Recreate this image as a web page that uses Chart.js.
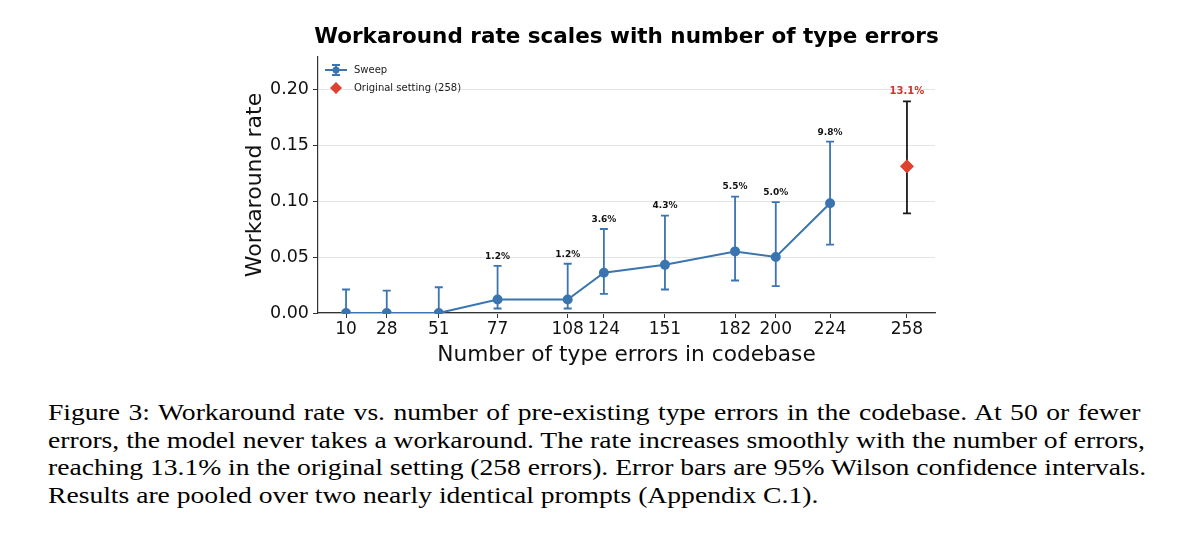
<!DOCTYPE html>
<html>
<head>
<meta charset="utf-8">
<script src="https://cdn.jsdelivr.net/npm/chart.js@4.4.1/dist/chart.umd.min.js"></script>
<style>
    body { margin: 0; background: #fff; width: 1200px; height: 538px; overflow: hidden; }
    #wrap { position: absolute; left: 0; top: 0; width: 1200px; height: 380px; }
    #caption {
        position: absolute; left: 48px; top: 399px; width: 950px;
        transform: scaleX(1.15); transform-origin: 0 0;
        font-family: "Liberation Serif", "Times New Roman", serif;
        font-size: 24px; line-height: 27.5px; color: #000; white-space: nowrap;
    }
    #caption .j { text-align: justify; text-align-last: justify; }
</style>
</head>
<body>
<div id="wrap"><canvas id="myChart"></canvas></div>
<div id="caption">
<div class="j">Figure 3: Workaround rate vs. number of pre-existing type errors in the codebase. At 50 or fewer</div>
<div class="j">errors, the model never takes a workaround. The rate increases smoothly with the number of errors,</div>
<div class="j">reaching 13.1% in the original setting (258 errors). Error bars are 95% Wilson confidence intervals.</div>
<div>Results are pooled over two nearly identical prompts (Appendix C.1).</div>
</div>
<script>
const errorCounts = [10, 28, 51, 77, 108, 124, 151, 182, 200, 224];
const sweepRate = [0, 0, 0, 0.012, 0.012, 0.036, 0.043, 0.055, 0.050, 0.098];
const sweepLow = [0, 0, 0, 0.004, 0.004, 0.017, 0.021, 0.029, 0.024, 0.061];
const sweepHigh = [0.021, 0.020, 0.023, 0.042, 0.044, 0.075, 0.087, 0.104, 0.099, 0.153];

const originalCount = [258];
const originalRate = [0.131];
const originalLow = [0.089];
const originalHigh = [0.189];

const xTicks = [10, 28, 51, 77, 108, 124, 151, 182, 200, 224, 258];
const yTicks = [0, 0.05, 0.10, 0.15, 0.20];

const chartTitle = 'Workaround rate scales with number of type errors';

const BLUE = '#3b75af';
const RED = '#e0402f';

function pct(v) {
    return (v * 100).toFixed(1) + '%';
}

// title centred over the axes (not the whole canvas), like matplotlib does
const axesTitlePlugin = {
    id: 'axesTitle',
    afterDraw(chart) {
        const ctx = chart.ctx;
        const area = chart.chartArea;
        ctx.save();
        ctx.font = 'bold 21.5px "DejaVu Sans"';
        ctx.fillStyle = '#000';
        ctx.textAlign = 'center';
        ctx.textBaseline = 'middle';
        ctx.fillText(chartTitle, (area.left + area.right) / 2, 37);
        ctx.restore();
    }
};

// error bars under the points, value labels above the caps
const errorBarPlugin = {
    id: 'errorBars',
    beforeDatasetsDraw(chart) {
        const ctx = chart.ctx;
        const x = chart.scales.x;
        const y = chart.scales.y;
        chart.data.datasets.forEach(ds => {
            ctx.save();
            ctx.strokeStyle = ds.barColor;
            ctx.lineWidth = 1.8;
            ds.data.forEach((p, i) => {
                const px = x.getPixelForValue(p.x);
                const top = y.getPixelForValue(ds.high[i]);
                const bot = y.getPixelForValue(ds.low[i]);
                ctx.beginPath();
                ctx.moveTo(px, top); ctx.lineTo(px, bot);
                ctx.moveTo(px - 4, top); ctx.lineTo(px + 4, top);
                ctx.moveTo(px - 4, bot); ctx.lineTo(px + 4, bot);
                ctx.stroke();
            });
            ctx.restore();
        });
    },
    afterDatasetsDraw(chart) {
        const ctx = chart.ctx;
        const x = chart.scales.x;
        const y = chart.scales.y;
        chart.data.datasets.forEach(ds => {
            ctx.save();
            ctx.fillStyle = ds.labelColor;
            ctx.font = ds.labelFont;
            ctx.textAlign = 'center';
            ctx.textBaseline = 'bottom';
            ds.data.forEach((p, i) => {
                if (p.y <= 0) return;
                ctx.fillText(pct(p.y), x.getPixelForValue(p.x), y.getPixelForValue(ds.high[i]) - 5);
            });
            ctx.restore();
        });

        // legend, top left inside the axes
        const area = chart.chartArea;
        const lx = area.left + 18;
        ctx.save();
        ctx.font = '10px "DejaVu Sans"';
        ctx.textBaseline = 'middle';
        let ly = area.top + 13;
        ctx.strokeStyle = BLUE;
        ctx.lineWidth = 1.8;
        ctx.beginPath();
        ctx.moveTo(lx - 11, ly); ctx.lineTo(lx + 11, ly);
        ctx.moveTo(lx, ly - 5); ctx.lineTo(lx, ly + 5);
        ctx.moveTo(lx - 4, ly - 5); ctx.lineTo(lx + 4, ly - 5);
        ctx.moveTo(lx - 4, ly + 5); ctx.lineTo(lx + 4, ly + 5);
        ctx.stroke();
        ctx.fillStyle = BLUE;
        ctx.beginPath(); ctx.arc(lx, ly, 3.5, 0, Math.PI * 2); ctx.fill();
        ctx.fillStyle = '#222';
        ctx.fillText(chart.data.datasets[0].label, lx + 18, ly);
        ly += 18;
        ctx.strokeStyle = 'rgba(0,0,0,0.25)';
        ctx.lineWidth = 1;
        ctx.beginPath();
        ctx.moveTo(lx, ly - 6); ctx.lineTo(lx, ly + 6);
        ctx.stroke();
        ctx.fillStyle = RED;
        ctx.beginPath();
        ctx.moveTo(lx, ly - 6); ctx.lineTo(lx + 6, ly); ctx.lineTo(lx, ly + 6); ctx.lineTo(lx - 6, ly);
        ctx.closePath(); ctx.fill();
        ctx.fillStyle = '#222';
        ctx.fillText(chart.data.datasets[1].label, lx + 18, ly);
        ctx.restore();
    }
};

new Chart(document.getElementById('myChart').getContext('2d'), {
    type: 'scatter',
    data: {
        datasets: [
            {
                label: 'Sweep',
                data: errorCounts.map((c, i) => ({ x: c, y: sweepRate[i] })),
                low: sweepLow,
                high: sweepHigh,
                barColor: BLUE,
                labelColor: '#111',
                labelFont: 'bold 9px "DejaVu Sans"',
                showLine: true,
                borderColor: BLUE,
                backgroundColor: BLUE,
                borderWidth: 2,
                pointRadius: 4,
                pointHoverRadius: 4,
                order: 1
            },
            {
                label: 'Original setting (258)',
                data: originalCount.map((c, i) => ({ x: c, y: originalRate[i] })),
                low: originalLow,
                high: originalHigh,
                barColor: '#1a1a1a',
                labelColor: '#c8372d',
                labelFont: 'bold 10px "DejaVu Sans"',
                showLine: false,
                pointStyle: 'rectRot',
                borderColor: RED,
                backgroundColor: RED,
                pointRadius: 6.5,
                pointHoverRadius: 6.5,
                order: 0
            }
        ]
    },
    options: {
        responsive: true,
        maintainAspectRatio: false,
        animation: false,
        events: [],
        layout: { padding: { left: 242, right: 265, top: 57, bottom: 0 } },
        scales: {
            x: {
                type: 'linear',
                min: -2.4,
                max: 270.4,
                afterBuildTicks: axis => { axis.ticks = xTicks.map(v => ({ value: v })); },
                afterFit: axis => { axis.height = 67; },
                ticks: {
                    color: '#111',
                    font: { family: 'DejaVu Sans', size: 17 },
                    padding: 1,
                    maxRotation: 0,
                    autoSkip: false
                },
                grid: { drawOnChartArea: false, tickLength: 5, tickColor: '#333', tickWidth: 1 },
                border: { color: '#333', width: 1.2 },
                title: {
                    display: true,
                    text: 'Number of type errors in codebase',
                    color: '#111',
                    font: { family: 'DejaVu Sans', size: 21.7 },
                    padding: { top: 0, bottom: 12 }
                }
            },
            y: {
                type: 'linear',
                min: 0,
                max: 0.2286,
                afterBuildTicks: axis => { axis.ticks = yTicks.map(v => ({ value: v })); },
                afterFit: axis => { axis.width = 76; },
                ticks: {
                    color: '#111',
                    font: { family: 'DejaVu Sans', size: 17.5 },
                    padding: 4,
                    callback: v => v.toFixed(2)
                },
                grid: {
                    color: '#e4e4e4',
                    lineWidth: 1,
                    tickLength: 5,
                    tickColor: '#333',
                    tickBorderDash: [],
                    borderDash: [4, 3]
                },
                border: { color: '#333', width: 1.2, dash: [] },
                title: {
                    display: true,
                    text: 'Workaround rate',
                    color: '#111',
                    font: { family: 'DejaVu Sans', size: 22 },
                    padding: { top: 0, bottom: 0 }
                }
            }
        },
        plugins: {
            legend: { display: false },
            tooltip: { enabled: false },
            title: { display: false }
        }
    },
    plugins: [errorBarPlugin, axesTitlePlugin]
});
</script>
</body>
</html>
